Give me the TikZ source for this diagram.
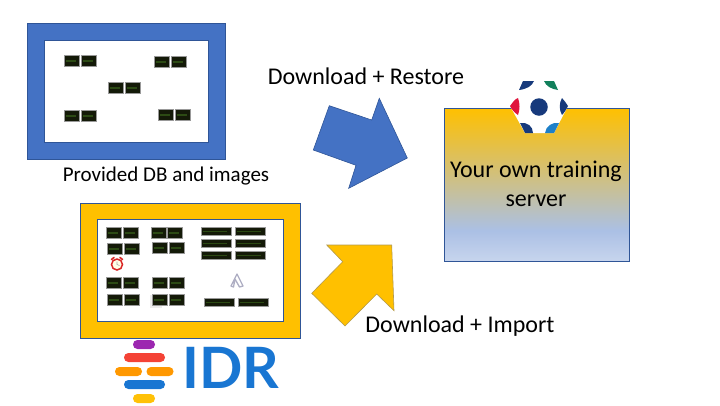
\documentclass[tikz,border=0pt]{standalone}
\usepackage{fontspec}
\setmainfont{Carlito}
\newfontfamily\idrfont{Lato}
\usetikzlibrary{positioning}
\definecolor{frameblue}{HTML}{4472C4}
\definecolor{edgeblue}{HTML}{2F5597}
\definecolor{frameyellow}{HTML}{FFC000}
\definecolor{ballnavy}{HTML}{173A7C}
\definecolor{ballred}{HTML}{E0143C}
\definecolor{ballgreen}{HTML}{12805C}
\definecolor{ballblue}{HTML}{1E80C8}
\definecolor{idrblue}{HTML}{1976D2}
\definecolor{idrpurple}{HTML}{9C27B0}
\definecolor{idrred}{HTML}{F44336}
\definecolor{idrorange}{HTML}{FF9800}
\definecolor{idryellow}{HTML}{FFC107}
\definecolor{thumbdark}{HTML}{141A08}
\definecolor{thumbstreak}{HTML}{2C4A14}
\pgfdeclareverticalshading{servershade}{100bp}{color(0bp)=(frameblue!30!white); color(25bp)=(frameblue!30!white); color(35bp)=(frameblue!45!white); color(75bp)=(frameyellow); color(100bp)=(frameyellow)}
\tikzset{
  panel/.style={rectangle,draw=edgeblue,line width=0.9pt,inner sep=0pt},
  thumb/.style={rectangle,draw=gray!80,fill=thumbdark,line width=0.7pt,inner sep=0pt,minimum width=15.5pt,minimum height=11.5pt,
    path picture={\fill[thumbstreak] ([xshift=2pt,yshift=-0.6pt]path picture bounding box.west) rectangle ([xshift=-4pt,yshift=0.6pt]path picture bounding box.east);}},
  widethumb/.style={thumb,minimum width=30pt,minimum height=8.5pt},
  logobar/.style={rectangle,rounded corners=4.4pt,inner sep=0pt,minimum height=9pt},
  label/.style={inner sep=0pt,font=\fontsize{24}{29}\selectfont},
  bigarrow/.style={line width=0.6pt,line join=miter}
}
\begin{document}
\begin{tikzpicture}[x=1pt,y=-1pt]
\useasboundingbox (0,0) rectangle (720,405);
% provided DB frame
\node[panel,fill=frameblue,minimum width=198pt,minimum height=136pt] (dbouter) at (126.3,91) {};
\node[panel,fill=white,minimum width=164pt,minimum height=102pt] (dbinner) at (126,91) {};
\node[thumb] (da1) at (72,61) {};
\node[thumb] (da2) at (89,61) {};
\node[thumb] (db1) at (162,62) {};
\node[thumb] (db2) at (179,62) {};
\node[thumb] (dc1) at (116,88) {};
\node[thumb] (dc2) at (133,88) {};
\node[thumb] (dd1) at (72,116) {};
\node[thumb] (dd2) at (89,116) {};
\node[thumb] (de1) at (166,115) {};
\node[thumb] (de2) at (183,115) {};
\node[label,font=\fontsize{21}{25}\selectfont] (dblabel) at (166,176) {Provided DB and images};
% IDR frame
\node[panel,fill=frameyellow,minimum width=220.5pt,minimum height=135pt] (idrouter) at (190.4,270.5) {};
\node[panel,fill=white,minimum width=186pt,minimum height=102pt] (idrinner) at (190.6,270) {};
\fill[gray!15] (150,295) rectangle (162,308);
\node[thumb] (ia1) at (114,233) {};
\node[thumb] (ia2) at (131,233) {};
\node[thumb] (ib1) at (159,233) {};
\node[thumb] (ib2) at (175,233) {};
\node[thumb] (ic1) at (115,249) {};
\node[thumb] (ic2) at (132,249) {};
\node[thumb] (id1) at (160,248) {};
\node[thumb] (id2) at (177,248) {};
\node[thumb] (ie1) at (114,283) {};
\node[thumb] (ie2) at (131,283) {};
\node[thumb] (if1) at (160,283) {};
\node[thumb] (if2) at (177,283) {};
\node[thumb] (ig1) at (115,300) {};
\node[thumb] (ig2) at (132,300) {};
\node[thumb] (ih1) at (160,300) {};
\node[thumb] (ih2) at (177,300) {};
\node[widethumb] (wa1) at (216,231.5) {};
\node[widethumb] (wa2) at (250,231.5) {};
\node[widethumb] (wb1) at (216,243.5) {};
\node[widethumb] (wb2) at (250,243.5) {};
\node[widethumb] (wc1) at (216,255.5) {};
\node[widethumb] (wc2) at (250,255.5) {};
\node[widethumb] (wd1) at (219,302.5) {};
\node[widethumb] (wd2) at (253,302.5) {};
% clock and clip
\draw[red!70!gray,line width=1.6pt,line cap=round] (111.5,259.5) -- (114,257.5) (122.5,259.5) -- (120,257.5);
\node[circle,draw=red!70!gray,fill=yellow!10,line width=1.5pt,minimum size=11pt,inner sep=0pt] (clock) at (117,264.5) {};
\draw[gray!70,line width=0.6pt] (clock.center) -- +(0,-3) (clock.center) -- +(2.5,1);
\draw[blue!15!gray!55,line width=1.3pt,line join=round,line cap=round] (231,286) -- (237,274) -- (243,286) -- (239.5,287) -- (235,279) -- (233.5,287) -- cycle;
% arrows
\draw[bigarrow,draw=edgeblue,fill=frameblue] (329.3,105.7) -- (371.7,120) -- (379.3,98.3) -- (407.3,158) -- (348.7,188.3) -- (356,165.3) -- (313.3,150) -- cycle;
\draw[bigarrow,draw=gray!60!frameyellow,fill=frameyellow] (326.7,245) -- (391.7,245) -- (394,310.7) -- (376.7,294) -- (345,326) -- (311.7,293.3) -- (342.7,261.7) -- cycle;
\node[label] (restorelabel) at (366,76) {Download + Restore};
\node[label] (importlabel) at (460,326) {Download + Import};
% training server
\node[panel,shading=servershade,minimum width=185pt,minimum height=153pt] (server) at (536.5,184.5) {};
\fill[white] (510,106) -- (520,80) -- (558,80) -- (568,106) -- (554,133) -- (525,133) -- cycle;
\node[circle,fill=ballnavy,inner sep=0pt,minimum size=17.5pt] (ballcore) at (539,107) {};
\fill[ballred] (510,106) .. controls (513,102) and (515,99) .. (518,98) .. controls (520,103) and (520,110) .. (518,115) .. controls (515,113) and (512,110) .. (510,106) -- cycle;
\fill[ballnavy] (568,106) .. controls (566,110) and (564,113) .. (562,115) .. controls (559,110) and (559,103) .. (562,98) .. controls (564,100) and (566,103) .. (568,106) -- cycle;
\fill[ballnavy] (523,81) -- (534,81) .. controls (532,86) and (527,89) .. (519,90) -- cycle;
\fill[ballgreen] (544,81) -- (554,81) -- (558,90) .. controls (551,89) and (546,86) .. (544,81) -- cycle;
\fill[ballnavy] (520,123) .. controls (527,122) and (533,126) .. (533,133) -- (525,133) -- cycle;
\fill[ballblue] (559,123) .. controls (552,122) and (546,126) .. (545,133) -- (554,133) -- cycle;
\node[label,align=center] (serverlabel) at (536,184) {Your own training\\server};
% IDR logo
\node[logobar,fill=idrpurple,minimum width=22pt] (barpurple) at (144,344.5) {};
\node[logobar,fill=idrred,minimum width=41pt] (barred) at (144.5,357.5) {};
\node[logobar,fill=idrorange,minimum width=27pt] (barorangea) at (128.5,371.5) {};
\node[logobar,fill=idrorange,minimum width=27pt] (barorangeb) at (160,371.5) {};
\node[logobar,fill=idrblue,minimum width=41pt] (barblue) at (144.5,384.5) {};
\node[logobar,fill=idryellow,minimum width=22pt] (baryellow) at (144,398.5) {};
\node[inner sep=0pt,text=idrblue,font=\idrfont\bfseries\fontsize{57}{60}\selectfont] (idrtext) at (231,367.5) {IDR};
\end{tikzpicture}
\end{document}
